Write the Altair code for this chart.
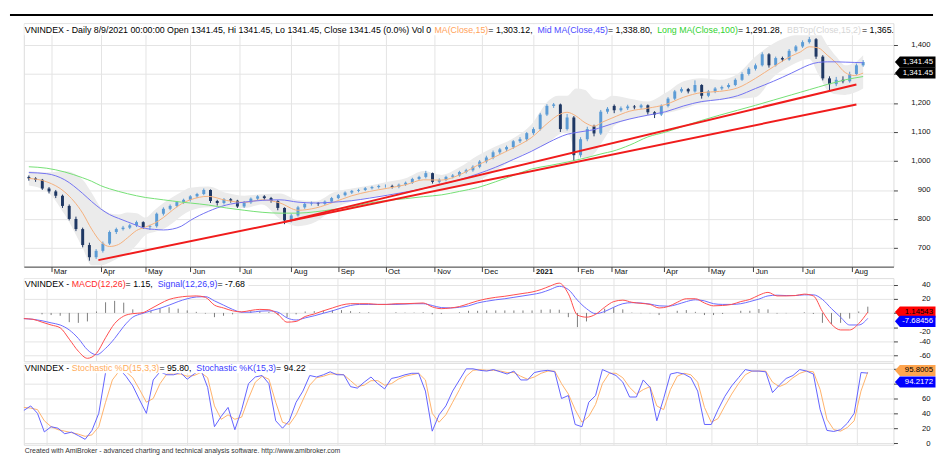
import altair as alt
import pandas as pd

# ---------------- axis categories ----------------
# x = trading-session index, 0 = 2 Mar 2020
MONTH_IDX = [0, 22, 42, 62, 84, 107, 128, 149, 171, 192, 215, 235, 250, 273, 293, 313, 335, 357]
MONTH_LABELS = ["Mar", "Apr", "May", "Jun", "Jul", "Aug", "Sep", "Oct", "Nov", "Dec",
                "2021", "Feb", "Mar", "Apr", "May", "Jun", "Jul", "Aug"]
PRICE_TICKS = [700, 800, 900, 1000, 1100, 1200, 1300, 1400]
MACD_TICKS = [-60, -40, -20, 0, 20, 40]
STOCH_TICKS = [0, 20, 40, 60, 80, 100]

# ---------------- candles (one every third session) ----------------
BAR_IDX = list(range(-10, 363, 3))
OPEN = [945, 940, 935, 905, 895, 880, 845, 800, 765, 710,
        668, 690, 715, 755, 765, 770, 778, 789, 772, 775,
        818, 835, 845, 858, 866, 878, 886, 900, 862, 855,
        868, 863, 843, 857, 870, 878, 872, 862, 838, 795,
        812, 840, 852, 854, 852, 860, 872, 882, 891, 897,
        900, 906, 910, 914, 914, 911, 918, 925, 938, 945,
        958, 928, 935, 945, 950, 962, 968, 980, 998, 1012,
        1030, 1040, 1048, 1068, 1075, 1096, 1110, 1160, 1190, 1195,
        1110, 1150, 1020, 1075, 1120, 1095, 1170, 1190, 1175, 1182,
        1188, 1185, 1192, 1168, 1160, 1190, 1215, 1240, 1248, 1240,
        1262, 1225, 1240, 1250, 1255, 1262, 1280, 1300, 1318, 1330,
        1368, 1330, 1355, 1350, 1380, 1395, 1410, 1420, 1360, 1285,
        1265, 1280, 1275, 1300, 1330]
HIGH = [950, 944, 938, 910, 900, 884, 850, 808, 770, 718,
        696, 722, 760, 770, 776, 783, 794, 792, 780, 822,
        840, 850, 862, 870, 882, 890, 905, 902, 866, 872,
        872, 866, 862, 874, 882, 882, 876, 865, 840, 818,
        845, 856, 860, 858, 864, 876, 886, 895, 900, 904,
        910, 914, 918, 919, 918, 922, 929, 942, 949, 966,
        960, 940, 949, 955, 966, 973, 985, 1003, 1018, 1036,
        1045, 1053, 1072, 1082, 1100, 1116, 1166, 1196, 1200, 1198,
        1162, 1155, 1082, 1118, 1125, 1176, 1186, 1195, 1188, 1194,
        1193, 1197, 1195, 1172, 1195, 1220, 1245, 1254, 1252, 1278,
        1265, 1245, 1255, 1260, 1268, 1285, 1306, 1323, 1336, 1375,
        1372, 1360, 1360, 1386, 1400, 1416, 1428, 1424, 1365, 1292,
        1290, 1292, 1308, 1336, 1348]
LOW = [932, 928, 900, 888, 872, 838, 795, 758, 702, 656,
       662, 684, 710, 748, 760, 765, 772, 766, 762, 770,
       812, 830, 840, 852, 860, 872, 882, 855, 846, 850,
       856, 838, 838, 852, 865, 866, 856, 830, 782, 788,
       808, 835, 846, 845, 848, 856, 868, 878, 886, 892,
       896, 902, 905, 908, 905, 906, 914, 921, 933, 940,
       922, 922, 930, 940, 946, 957, 963, 975, 992, 1006,
       1024, 1034, 1042, 1062, 1068, 1090, 1105, 1155, 1183, 1100,
       1105, 1000, 1012, 1068, 1085, 1090, 1163, 1165, 1170, 1176,
       1178, 1180, 1160, 1148, 1155, 1185, 1210, 1235, 1233, 1236,
       1215, 1220, 1234, 1244, 1250, 1258, 1276, 1295, 1312, 1326,
       1322, 1326, 1343, 1346, 1375, 1390, 1405, 1352, 1278, 1240,
       1258, 1268, 1270, 1296, 1325]
CLOSE = [940, 935, 905, 895, 880, 845, 800, 765, 710, 668,
         690, 715, 755, 765, 770, 778, 789, 772, 775, 818,
         835, 845, 858, 866, 878, 886, 900, 862, 855, 868,
         863, 843, 857, 870, 878, 872, 862, 838, 795, 812,
         840, 852, 854, 852, 860, 872, 882, 891, 897, 900,
         906, 910, 914, 914, 911, 918, 925, 938, 945, 958,
         928, 935, 945, 950, 962, 968, 980, 998, 1012, 1030,
         1040, 1048, 1068, 1075, 1096, 1110, 1160, 1190, 1195, 1110,
         1150, 1020, 1075, 1110, 1095, 1170, 1180, 1175, 1182, 1188,
         1185, 1192, 1168, 1160, 1190, 1215, 1240, 1248, 1240, 1262,
         1225, 1240, 1250, 1255, 1262, 1280, 1300, 1318, 1330, 1368,
         1330, 1355, 1350, 1380, 1395, 1410, 1420, 1360, 1285, 1265,
         1280, 1275, 1300, 1330, 1341.45]

# ---------------- moving averages and Bollinger band ----------------
MA_IDX = [-10, -2, 6, 14, 18, 22, 26, 30, 34, 38, 42, 46, 50, 54, 58, 62,
          70, 78, 86, 94, 102, 110, 118, 126, 134, 142, 150, 158, 166, 174,
          182, 190, 198, 206, 214, 222, 226, 230, 234, 238, 242, 246, 250,
          258, 266, 274, 282, 290, 298, 306, 314, 322, 330,
          334, 338, 342, 346, 350, 354, 358, 362]
MA15 = [940, 928, 893, 820, 765, 722, 705, 712, 735, 760, 772, 785, 805, 830, 852, 866,
        878, 864, 857, 866, 855, 830, 838, 858, 880, 895, 906, 918, 935, 934,
        952, 985, 1015, 1045, 1080, 1135, 1158, 1168, 1155, 1132, 1120, 1135, 1148,
        1172, 1182, 1195, 1220, 1236, 1240, 1252, 1285, 1325, 1362,
        1376, 1394, 1390, 1365, 1338, 1305, 1295, 1303.12]
MA45 = [960, 956, 935, 888, 860, 835, 815, 802, 790, 778, 767, 764, 762, 765, 775, 795,
        826, 848, 858, 864, 866, 858, 855, 858, 863, 872, 882, 893, 905, 920,
        935, 955, 978, 1005, 1033, 1065, 1080, 1092, 1098, 1103, 1108, 1118, 1128,
        1145, 1158, 1170, 1190, 1205, 1212, 1225, 1250, 1275, 1303,
        1318, 1332, 1340, 1342, 1342, 1341, 1340, 1338.80]
MA100 = [980, 975, 962, 942, 930, 915, 904, 895, 887, 880, 874, 870, 866, 862, 858, 855,
         848, 838, 830, 823, 820, 820, 825, 833, 842, 855, 864, 870, 877, 883,
         895, 908, 928, 950, 972, 984, 990, 996, 1003, 1010, 1018, 1026, 1033,
         1055, 1083, 1100, 1120, 1140, 1158, 1175, 1192, 1210, 1228,
         1237, 1246, 1255, 1264, 1272, 1280, 1286, 1291.28]
BB_TOP = [965, 960, 965, 935, 890, 840, 820, 815, 822, 820, 805, 830, 855, 875, 893, 908,
          912, 890, 880, 885, 888, 865, 862, 892, 905, 915, 928, 940, 965, 952,
          978, 1018, 1050, 1078, 1125, 1210, 1225, 1225, 1250, 1245, 1215, 1210, 1225,
          1215, 1205, 1235, 1275, 1285, 1280, 1300, 1360, 1405, 1432,
          1438, 1443, 1443, 1400, 1360, 1330, 1338, 1365]
BB_BOT = [915, 895, 815, 700, 640, 640, 650, 665, 680, 710, 745, 755, 765, 785, 810, 828,
          840, 840, 838, 850, 800, 775, 790, 835, 860, 875, 884, 895, 905, 898,
          915, 930, 965, 1005, 1035, 1065, 1090, 1100, 1030, 1010, 1025, 1070, 1115,
          1145, 1158, 1165, 1180, 1200, 1212, 1215, 1220, 1290, 1330,
          1345, 1352, 1300, 1245, 1230, 1228, 1235, 1250]

# ---------------- trend lines ----------------
TREND_X0 = [21, 104]
TREND_Y0 = [658, 790]
TREND_X1 = [359, 359]
TREND_Y1 = [1195, 1264]

# ---------------- MACD(12,26) / Signal(12,26,9) ----------------
MACD_IDX = list(range(-10, 363, 4))
MACD = [-8, -9, -13, -17, -21, -37, -54, -64, -57, -35,
        -15, -4.5, -1, 0, 6, 13, 19, 22, 23.5, 24,
        22, 11, 7, 3, 1.5, 3.5, 5, 4.5, -2, -13,
        -12, -5, -1.5, 3, 7, 11, 13, 13, 13, 12,
        12, 13, 13, 13.5, 14, 8.5, 6, 7, 9, 13,
        17, 20, 22, 23.5, 25.5, 27.5, 29.5, 33, 38, 42,
        27, -3, -6, -2, 8, 16, 18, 15, 13.5, 12,
        7, 9, 15, 20, 20, 14, 10, 10.5, 12, 16,
        19, 25, 29, 24, 24, 24.5, 26.5, 24, 2, -16,
        -24, -24, -15, 1.15]
SIGNAL = [-8, -9, -11, -14, -17, -24, -36, -52, -59, -50,
          -36, -19, -6, -1, 3, 6.5, 11, 16, 20, 22.5,
          23, 17, 11, 5, 1, 1, 2.5, 3, 1, -7,
          -10, -7, -4, -0.5, 3, 7, 10.5, 12, 12, 12,
          12, 12, 12.5, 13, 13, 10.5, 7.5, 7, 8, 10,
          14, 16.5, 18.5, 20, 22, 24, 26, 28.5, 33, 37.5,
          33, 18, 6, -1, 2, 8, 13, 14.5, 14, 12.5,
          10, 9.5, 12, 16, 18.5, 17, 13, 12, 12, 13,
          16, 19.5, 24, 25, 24.5, 24.5, 25.5, 25.5, 19, 6,
          -6, -17, -17, -7.68]
HIST = [0, 0, -2, -3, -4, -13, -14, -12, 2, 15,
        17, 14.5, 5, 1, 3, 6.5, 8, 6, 3.5, 1.5,
        -1, -6, -4, -2, 0.5, 2.5, 2.5, 1.5, -3, -6,
        -2, 2, 2.5, 3.5, 4, 4, 2.5, 1, 1, 0,
        0, 1, 0.5, 0.5, 1, -2, -1.5, 0, 1, 3,
        3, 3.5, 3.5, 3.5, 3.5, 3.5, 3.5, 4.5, 5, 4.5,
        -6, -20, -12, -1, 6, 8, 5, 0.5, -0.5, -0.5,
        -3, -0.5, 3, 4, 1.5, -3, -3, -1.5, 0, 3,
        3, 5.5, 5, -1, -0.5, 0, 1, -1.5, -14, -16,
        -14, -8, 2, 8.8]

# ---------------- Stochastic %K(15,3) / %D(15,3,3) ----------------
STOCH_K = [44, 50, 40, 15, 22, 20, 12.5, 14.7, 10, 5,
           17, 40, 95, 100, 100, 90, 77, 58, 40, 85,
           96, 92, 92, 95, 86, 93, 99, 75, 22, 36,
           48, 18, 45, 80, 89, 91, 80, 30, 20, 30,
           55, 70, 91, 89, 92, 96, 92, 92, 76, 74,
           82, 89, 80, 73, 87, 89, 92, 94, 94, 70,
           16, 38, 50, 70, 85, 100, 100, 98, 97, 99,
           96, 93, 97, 85, 85, 95, 97, 98, 96, 60,
           64, 25, 22, 55, 64, 99, 95, 91, 82, 62,
           62, 85, 75, 30, 60, 93, 95, 93, 88, 70,
           25, 25, 45, 63, 77, 88, 99, 97, 97, 96,
           68, 78, 87, 91, 99, 97, 93, 45, 17, 15.6,
           18, 26.7, 40, 95, 94.22]
STOCH_D = [48, 47, 45, 30, 22, 18, 16, 14, 12, 9,
           11, 22, 55, 85, 97, 96, 88, 72, 55, 60,
           80, 93, 93, 93, 90, 91, 95, 88, 50, 32,
           38, 32, 35, 60, 82, 90, 86, 55, 28, 25,
           38, 58, 78, 88, 90, 93, 93, 92, 84, 76,
           78, 84, 84, 78, 80, 86, 90, 92, 94, 85,
           40, 28, 38, 55, 72, 90, 98, 99, 98, 98,
           97, 95, 95, 90, 86, 89, 94, 97, 97, 80,
           66, 45, 28, 36, 52, 80, 94, 94, 88, 75,
           66, 72, 76, 50, 45, 72, 90, 94, 92, 82,
           48, 28, 33, 50, 66, 80, 92, 97, 97, 97,
           82, 76, 80, 88, 94, 97, 96, 72, 32, 18,
           16, 21, 30, 70, 95.8]

# ---------------- texts ----------------
MAIN_TITLE = [("VNINDEX - Daily 8/9/2021 00:00:00 Open 1341.45, Hi 1341.45, Lo 1341.45, Close 1341.45 (0.0%) Vol 0 ", "#000000"),
              ("MA(Close,15)", "#ffa25a"), (" = 1,303.12, ", "#000000"),
              ("Mid MA(Close,45)", "#4b4bff"), (" = 1,338.80, ", "#000000"),
              ("Long MA(Close,100)", "#2fd22f"), (" = 1,291.28, ", "#000000"),
              ("BBTop(Close,15,2)", "#d6d6d6"), (" = 1,365.00", "#000000")]
MACD_TITLE = [("VNINDEX - ", "#000000"), ("MACD(12,26)", "#ff2a2a"), (" = 1.15, ", "#000000"),
              ("Signal(12,26,9)", "#3c3cff"), (" = -7.68", "#000000")]
STOCH_TITLE = [("VNINDEX - ", "#000000"), ("Stochastic %D(15,3,3)", "#ffac5c"), (" = 95.80, ", "#000000"),
               ("Stochastic %K(15,3)", "#3c3cff"), (" = 94.22", "#000000")]
FOOTER = "Created with AmiBroker - advanced charting and technical analysis software. http://www.amibroker.com"

for lst in (OPEN, HIGH, LOW, CLOSE, STOCH_K, STOCH_D):
    assert len(lst) == len(BAR_IDX), len(lst)
for lst in (MA15, MA45, MA100, BB_TOP, BB_BOT):
    assert len(lst) == len(MA_IDX), len(lst)
for lst in (MACD, SIGNAL, HIST):
    assert len(lst) == len(MACD_IDX), len(lst)

# ---------------- layout ----------------
W = 879
H_MAIN, H_MACD, H_STOCH = 246, 84, 82.7
XS = alt.Scale(domain=[-10.03, 373.31], nice=False, zero=False)
YS_MAIN = alt.Scale(domain=[635.5, 1475.1], nice=False, zero=False)
YS_MACD = alt.Scale(domain=[-68.1, 49.1], nice=False, zero=False)
YS_STOCH = alt.Scale(domain=[-2.27, 108], nice=False, zero=False)
GRID = "#e4e4e4"
FONT = "Liberation Sans"

AW = {' ': 278, '!': 278, '%': 889, '(': 333, ')': 333, ',': 278, '-': 333, '.': 278, '/': 278,
      ':': 278, '=': 584, 'A': 667, 'B': 667, 'C': 722, 'D': 722, 'E': 667, 'H': 722, 'I': 278,
      'K': 667, 'L': 556, 'M': 833, 'N': 722, 'O': 778, 'S': 667, 'T': 611, 'V': 667, 'X': 667,
      'a': 556, 'b': 556, 'c': 500, 'd': 556, 'e': 556, 'g': 556, 'h': 556, 'i': 222, 'k': 500,
      'l': 222, 'n': 556, 'o': 556, 'p': 556, 'r': 333, 's': 500, 't': 278, 'y': 500}


def tw(s, size):
    return sum(AW.get(ch, 556) for ch in s) * size / 1000.0


def y_axis(vals, expr, label_offset=0):
    return alt.Axis(orient="right", values=vals, grid=True, gridColor=GRID, tickSize=4,
                    tickColor="#444444", domain=False, labelAlign="right", labelPadding=33,
                    labelFontSize=7.8, labelColor="#111111", title=None, labelExpr=expr,
                    labelOffset=label_offset)


month_expr = " : ".join("datum.value == %d ? '%s'" % (v, m) for v, m in zip(MONTH_IDX, MONTH_LABELS)) + " : ''"
XA_MAIN = alt.Axis(values=MONTH_IDX, labelExpr=month_expr, grid=True, gridColor=GRID,
                   tickSize=5, tickColor="#444444", domainColor="#444444",
                   labelAlign="left", labelOffset=2, labelBaseline="middle",
                   labelPadding=0, labelFontSize=7.8, labelColor="#111111",
                   labelFontWeight={"condition": {"test": "datum.value == 215", "value": "bold"},
                                    "value": "normal"},
                   title=None)
XA_GRID = alt.Axis(values=MONTH_IDX, grid=True, gridColor=GRID, labels=False,
                   ticks=False, domain=False, title=None)
# tick labels that sit under the value tags are left blank, as in the original
YA_MAIN = y_axis(PRICE_TICKS, "datum.value == 1300 ? '' : format(datum.value, ',d')")
YA_MACD = y_axis(MACD_TICKS,
                 "datum.value == 0 ? '' : (datum.value < 0 ? '-' + (-datum.value) : '' + datum.value)",
                 {"condition": {"test": "datum.value == -20", "value": 4}, "value": 0})
YA_STOCH = y_axis(STOCH_TICKS, "datum.value >= 80 ? '' : '' + datum.value")


def title_layer(segs, y, size=8.9, clip=False):
    layers, x = [], 1.0
    starts = []
    for t, c in segs:
        starts.append(x)
        x += tw(t, size)
    layers.append(alt.Chart(pd.DataFrame({"a": [0]})).mark_rect(color="white").encode(
        x=alt.value(0.6), x2=alt.value(min(x + 1, W - 0.6)),
        y=alt.value(max(0.6, y - 5.5)), y2=alt.value(y + 5.5)))
    for (t, c), x0 in zip(segs, starts):
        layers.append(alt.Chart(pd.DataFrame({"t": [t]})).mark_text(
            align="left", baseline="middle", fontSize=size, color=c, clip=clip).encode(
            x=alt.value(x0), y=alt.value(y), text="t:N"))
    return layers


TAG_PATH = "M0,0 L0.25,-0.28 L2.05,-0.28 L2.05,0.28 L0.25,0.28 Z"


def tag(value, label, fill, tcolor, yscale, yaxis, dy):
    df = pd.DataFrame({"v": [value], "t": [label]})
    box = alt.Chart(df).mark_point(shape=TAG_PATH, size=1600, filled=True, color=fill,
                                   opacity=1, strokeWidth=0, yOffset=dy).encode(
        x=alt.value(W + 1.5), y=alt.Y("v:Q", scale=yscale, axis=yaxis))
    txt = alt.Chart(df).mark_text(align="right", baseline="middle", fontSize=7.9,
                                  color=tcolor, dy=dy).encode(
        x=alt.value(W + 40), y=alt.Y("v:Q", scale=yscale, axis=yaxis), text="t:N")
    return [box, txt]


# ---------------- main price panel ----------------
cdf = pd.DataFrame({"i": BAR_IDX, "o": OPEN, "h": HIGH, "l": LOW, "c": CLOSE})
mdf = pd.DataFrame({"i": MA_IDX, "ma15": MA15, "ma45": MA45, "ma100": MA100,
                    "bbt": BB_TOP, "bbb": BB_BOT})
tdf = pd.DataFrame({"x0": TREND_X0, "y0": TREND_Y0, "x1": TREND_X1, "y1": TREND_Y1})


def mx(field):
    return alt.X(field + ":Q", scale=XS, axis=XA_MAIN)


def my(field):
    return alt.Y(field + ":Q", scale=YS_MAIN, axis=YA_MAIN)


band = alt.Chart(mdf).mark_area(color="#ebebeb", interpolate="monotone").encode(
    x=mx("i"), y=my("bbt"), y2="bbb:Q")
ccol = alt.condition("datum.c >= datum.o", alt.value("#5b9bd5"), alt.value("#1f3864"))
wick = alt.Chart(cdf).mark_rule(strokeWidth=1).encode(x=mx("i"), y=my("l"), y2="h:Q", color=ccol)
body = alt.Chart(cdf).mark_bar(width=3).encode(x=mx("i"), y=my("o"), y2="c:Q", color=ccol)


def ma_line(field, color):
    return alt.Chart(mdf).mark_line(color=color, strokeWidth=1, interpolate="monotone").encode(
        x=mx("i"), y=my(field))


trend = alt.Chart(tdf).mark_rule(color="#f01c1c", strokeWidth=2).encode(
    x=mx("x0"), x2="x1:Q", y=my("y0"), y2="y1:Q")
topline = alt.Chart(pd.DataFrame({"a": [0]})).mark_rule(color="#000000", strokeWidth=2).encode(
    x=alt.value(-14), x2=alt.value(W + 40), y=alt.value(-8.4))

main_layers = [band, wick, body, ma_line("ma15", "#f5b07c"), ma_line("ma45", "#7272f2"),
               ma_line("ma100", "#74e074"), trend]
main_layers += title_layer(MAIN_TITLE, 6.5, clip=True)
main_layers += tag(1341.45, "1,341.45", "#000000", "#ffffff", YS_MAIN, YA_MAIN, 0)
main_layers += tag(1341.45, "1,341.45", "#000000", "#ffffff", YS_MAIN, YA_MAIN, 11)
main_layers += [topline]
main = alt.layer(*main_layers).properties(width=W, height=H_MAIN)

# ---------------- MACD panel ----------------
mcdf = pd.DataFrame({"i": MACD_IDX, "macd": MACD, "sig": SIGNAL, "hist": HIST})


def cx(field):
    return alt.X(field + ":Q", scale=XS, axis=XA_GRID)


hist = alt.Chart(mcdf).mark_rule(color="#7c7c7c", strokeWidth=1).encode(
    x=cx("i"), y=alt.Y("hist:Q", scale=YS_MACD, axis=YA_MACD), y2=alt.datum(0))
sig_line = alt.Chart(mcdf).mark_line(color="#6b6bff", strokeWidth=1, interpolate="monotone").encode(
    x=cx("i"), y=alt.Y("sig:Q", scale=YS_MACD, axis=YA_MACD))
macd_line = alt.Chart(mcdf).mark_line(color="#ff4d4d", strokeWidth=1, interpolate="monotone").encode(
    x=cx("i"), y=alt.Y("macd:Q", scale=YS_MACD, axis=YA_MACD))
macd_layers = [hist, sig_line, macd_line] + title_layer(MACD_TITLE, 5.7)
macd_layers += tag(1.14543, "1.14543", "#ff0000", "#000000", YS_MACD, YA_MACD, 0)
macd_layers += tag(-7.68456, "-7.68456", "#0000ff", "#ffffff", YS_MACD, YA_MACD, 3)
macd_panel = alt.layer(*macd_layers).properties(width=W, height=H_MACD)

# ---------------- Stochastic panel ----------------
sdf = pd.DataFrame({"i": BAR_IDX, "k": STOCH_K, "d": STOCH_D})
d_line = alt.Chart(sdf).mark_line(color="#ffb26b", strokeWidth=1).encode(
    x=cx("i"), y=alt.Y("d:Q", scale=YS_STOCH, axis=YA_STOCH))
k_line = alt.Chart(sdf).mark_line(color="#6262ff", strokeWidth=1).encode(
    x=cx("i"), y=alt.Y("k:Q", scale=YS_STOCH, axis=YA_STOCH))
footer = alt.Chart(pd.DataFrame({"t": [FOOTER]})).mark_text(
    align="left", baseline="middle", fontSize=7, color="#333333").encode(
    x=alt.value(1), y=alt.value(H_STOCH + 6), text="t:N")
stoch_layers = [d_line, k_line] + title_layer(STOCH_TITLE, 5.0)
stoch_layers += tag(95.8005, "95.8005", "#ffa54f", "#000000", YS_STOCH, YA_STOCH, -1.5)
stoch_layers += tag(94.2172, "94.2172", "#0000ff", "#ffffff", YS_STOCH, YA_STOCH, 9)
stoch_layers += [footer]
stoch_panel = alt.layer(*stoch_layers).properties(width=W, height=H_STOCH)

chart = alt.vconcat(
    main,
    alt.vconcat(macd_panel, stoch_panel, spacing=1.7, bounds="flush"),
    spacing=11.6, bounds="flush",
).properties(
    padding={"left": 0, "top": 3, "right": 0, "bottom": 0},
    background="white",
).configure_view(
    stroke="#8a8a8a", strokeWidth=1
).configure(font=FONT)

chart.save("out.html", embed_options={"renderer": "svg", "actions": False})
